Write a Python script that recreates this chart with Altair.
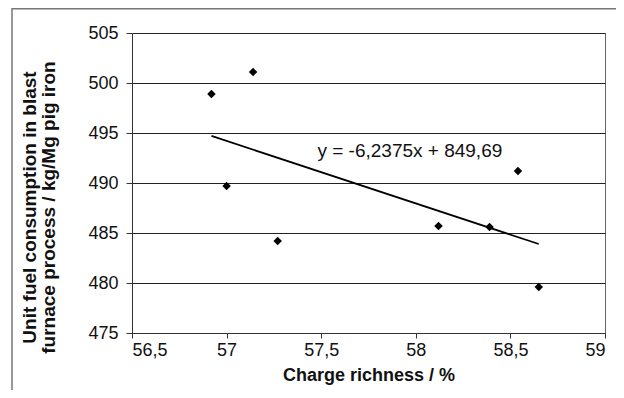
import altair as alt
import pandas as pd

# Data
richness = [56.92, 57.14, 57.00, 57.27, 58.12, 58.39, 58.54, 58.65]
fuel = [498.9, 501.1, 489.7, 484.2, 485.7, 485.6, 491.2, 479.6]

x_ticks = [56.5, 57.0, 57.5, 58.0, 58.5, 59.0]
y_ticks = [475, 480, 485, 490, 495, 500, 505]

eq_label = ["y = -6,2375x + 849,69"]
eq_x = [57.48]
eq_y = [492.6]

df = pd.DataFrame({"x": richness, "y": fuel})
ann = pd.DataFrame({"x": eq_x, "y": eq_y, "t": eq_label})

FONT = "Liberation Sans"
comma = "replace(format(datum.value, '~g'), '.', ',')"

xs = alt.Scale(domain=[56.5, 59], nice=False, zero=False)
ys = alt.Scale(domain=[475, 505], nice=False, zero=False)

xax = alt.Axis(values=x_ticks, labelExpr=comma, grid=False, tickSize=5,
               labelPadding=3, labelFontSize=18, labelFont=FONT, labelColor="#111",
               domainColor="#333", tickColor="#333",
               title="Charge richness / %", titleFont=FONT, titleFontSize=18,
               titleFontWeight="bold", titleColor="#111", titlePadding=7)
yax = alt.Axis(values=y_ticks, labelExpr=comma, grid=True, gridColor="#222",
               gridOpacity=1, tickSize=6, labelPadding=8, labelFontSize=18,
               labelFont=FONT, labelColor="#111", domainColor="#333", tickColor="#333",
               title=["Unit fuel consumption in blast", "furnace process / kg/Mg pig iron"],
               titleFont=FONT, titleFontSize=19, titleFontWeight="bold",
               titleColor="#111", titleLineHeight=19, titlePadding=29, titleY=174)

base = alt.Chart(df)

points = base.mark_point(shape="diamond", filled=True, size=72, color="#000", opacity=1).encode(
    x=alt.X("x:Q", scale=xs, axis=xax),
    y=alt.Y("y:Q", scale=ys, axis=yax),
)

trend = base.transform_regression("x", "y").mark_line(color="#000", strokeWidth=1.8).encode(
    x=alt.X("x:Q", scale=xs),
    y=alt.Y("y:Q", scale=ys),
)

label = alt.Chart(ann).mark_text(align="left", baseline="alphabetic", font=FONT,
                                 fontSize=19, color="#111").encode(
    x=alt.X("x:Q", scale=xs),
    y=alt.Y("y:Q", scale=ys),
    text="t:N",
)

frame = alt.Chart(alt.Data(values=[{"f": 1}])).mark_rect(
    fill=None, stroke="#777", strokeWidth=1.5
).encode(
    x=alt.value(-120), x2=alt.value(620), y=alt.value(-24.25), y2=alt.value(420)
)

chart = alt.layer(frame, points, trend, label).properties(
    width=473, height=300,
    autosize=alt.AutoSizeParams(type="none"),
    padding={"left": 124, "top": 25, "right": 11, "bottom": 57},
    background="white",
).configure_view(stroke="#666", strokeWidth=1)

chart.save("out.html", embed_options={"renderer": "svg", "actions": False})
